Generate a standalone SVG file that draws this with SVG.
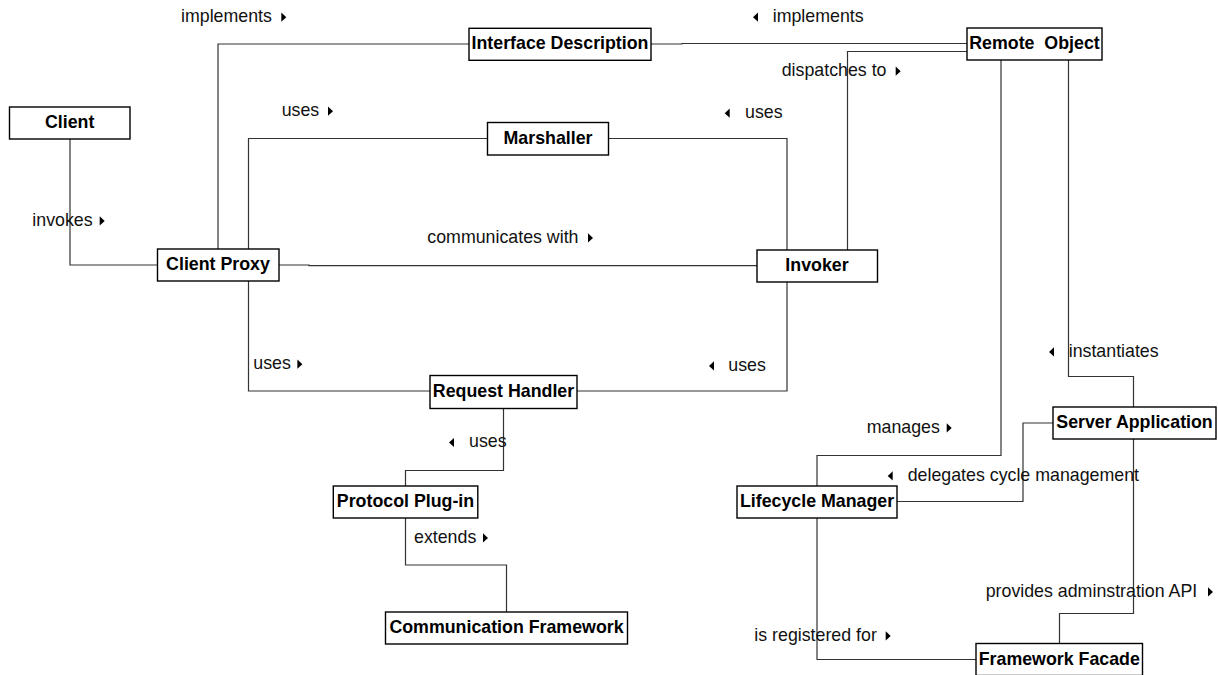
<svg xmlns="http://www.w3.org/2000/svg" xmlns:xlink="http://www.w3.org/1999/xlink" width="1218" height="675" viewBox="0 0 1218 675">
  <style>
    .node rect { fill: #ffffff; stroke: #000000; stroke-width: 1.4; }
    .node text { font-family: "Liberation Sans", Arial, sans-serif; font-size: 17.8px; font-weight: bold; fill: #000000; text-anchor: middle; white-space: pre; }
    .conn polyline { fill: none; stroke: #333333; stroke-width: 1.2; }
    .lbl { font-family: "Liberation Sans", Arial, sans-serif; font-size: 17.8px; fill: #111111; }
    .dir { fill: #000000; }
  </style>
  <defs>
    <!-- direction marks for association names -->
    <polygon id="dirR" class="dir" points="0,-9.4 5,-4.8 0,-0.2"/>
    <polygon id="dirL" class="dir" points="5,-9.4 0,-4.8 5,-0.2"/>
  </defs>
  <rect width="1218" height="675" fill="#ffffff"/>

  <!-- associations -->
  <g id="connectors" class="conn">
    <polyline points="70,139 70,265 157.5,265"/>
    <polyline points="218,249 218,44 469,44"/>
    <polyline points="651,44 682,44 682,43.5 967,43.5"/>
    <polyline points="248.5,249 248.5,138.5 487.5,138.5"/>
    <polyline points="608.5,138.5 787,138.5 787,250"/>
    <polyline points="279,265 309,265 309,265.7 757,265.7"/>
    <polyline points="248.5,281 248.5,391 430,391"/>
    <polyline points="577,391 787,391 787,282"/>
    <polyline points="847.5,250 847.5,51.5 967,51.5"/>
    <polyline points="503.5,408.5 503.5,470.5 405.5,470.5 405.5,486"/>
    <polyline points="405.5,518 405.5,565 506.5,565 506.5,612"/>
    <polyline points="1001,60 1001,455.5 817,455.5 817,486"/>
    <polyline points="1068.5,60 1068.5,376.5 1133.5,376.5 1133.5,407"/>
    <polyline points="1053,423 1023,423 1023,501.5 897,501.5"/>
    <polyline points="817,518 817,659.5 976,659.5"/>
    <polyline points="1133.5,439 1133.5,613.5 1059.5,613.5 1059.5,643.5"/>
  </g>

  <!-- association names -->
  <g id="labels">
    <text class="lbl" x="181" y="22">implements</text>
    <use xlink:href="#dirR" x="281.3" y="22"/>
    <text class="lbl" x="281.7" y="116">uses</text>
    <use xlink:href="#dirR" x="328" y="116"/>
    <text class="lbl" x="32.3" y="225.7">invokes</text>
    <use xlink:href="#dirR" x="99.7" y="225.7"/>
    <use xlink:href="#dirL" x="753" y="22"/>
    <text class="lbl" x="772.7" y="22">implements</text>
    <text class="lbl" x="781.7" y="76">dispatches to</text>
    <use xlink:href="#dirR" x="895.7" y="76"/>
    <use xlink:href="#dirL" x="724.7" y="118"/>
    <text class="lbl" x="745" y="118">uses</text>
    <text class="lbl" x="427.3" y="242.7">communicates with</text>
    <use xlink:href="#dirR" x="588" y="242.7"/>
    <text class="lbl" x="253.3" y="369">uses</text>
    <use xlink:href="#dirR" x="297.4" y="369"/>
    <use xlink:href="#dirL" x="709" y="370.7"/>
    <text class="lbl" x="728.3" y="370.7">uses</text>
    <use xlink:href="#dirL" x="449" y="447.3"/>
    <text class="lbl" x="469" y="447.3">uses</text>
    <text class="lbl" x="414" y="542.7">extends</text>
    <use xlink:href="#dirR" x="483" y="542.7"/>
    <use xlink:href="#dirL" x="1049" y="356.7"/>
    <text class="lbl" x="1068.7" y="356.7">instantiates</text>
    <text class="lbl" x="866.7" y="432.7">manages</text>
    <use xlink:href="#dirR" x="946.7" y="432.7"/>
    <use xlink:href="#dirL" x="887.7" y="480.7"/>
    <text class="lbl" x="907.7" y="480.7">delegates cycle management</text>
    <text class="lbl" x="985.7" y="596.7">provides adminstration API</text>
    <use xlink:href="#dirR" x="1208" y="596.7"/>
    <text class="lbl" x="754.3" y="640.7">is registered for</text>
    <use xlink:href="#dirR" x="885.7" y="640.7"/>
  </g>

  <!-- classes -->
  <g id="client" class="node"><rect x="9.5" y="107" width="120.5" height="32"/><text x="69.7" y="128">Client</text></g>
  <g id="client-proxy" class="node"><rect x="157.5" y="249" width="121.5" height="32"/><text x="218" y="270">Client Proxy</text></g>
  <g id="interface-description" class="node"><rect x="469" y="28.3" width="182" height="32"/><text x="560" y="49.3">Interface Description</text></g>
  <g id="remote-object" class="node"><rect x="967" y="28" width="135" height="32"/><text x="1034.5" y="49">Remote  Object</text></g>
  <g id="marshaller" class="node"><rect x="487.5" y="122.5" width="121" height="32.5"/><text x="548" y="144">Marshaller</text></g>
  <g id="invoker" class="node"><rect x="757" y="250" width="120.5" height="32"/><text x="817" y="271">Invoker</text></g>
  <g id="request-handler" class="node"><rect x="430" y="375.5" width="147" height="33"/><text x="503.5" y="397">Request Handler</text></g>
  <g id="protocol-plug-in" class="node"><rect x="333.3" y="486" width="144.5" height="32"/><text x="405.5" y="507">Protocol Plug-in</text></g>
  <g id="communication-framework" class="node"><rect x="385.5" y="612" width="242" height="32"/><text x="506.5" y="633">Communication Framework</text></g>
  <g id="lifecycle-manager" class="node"><rect x="737" y="486" width="160" height="32"/><text x="817" y="507">Lifecycle Manager</text></g>
  <g id="server-application" class="node"><rect x="1053" y="407" width="163" height="32"/><text x="1134.5" y="428">Server Application</text></g>
  <g id="framework-facade" class="node"><rect x="976" y="643.5" width="166.5" height="32"/><text x="1059.3" y="664.5">Framework Facade</text></g>
</svg>
